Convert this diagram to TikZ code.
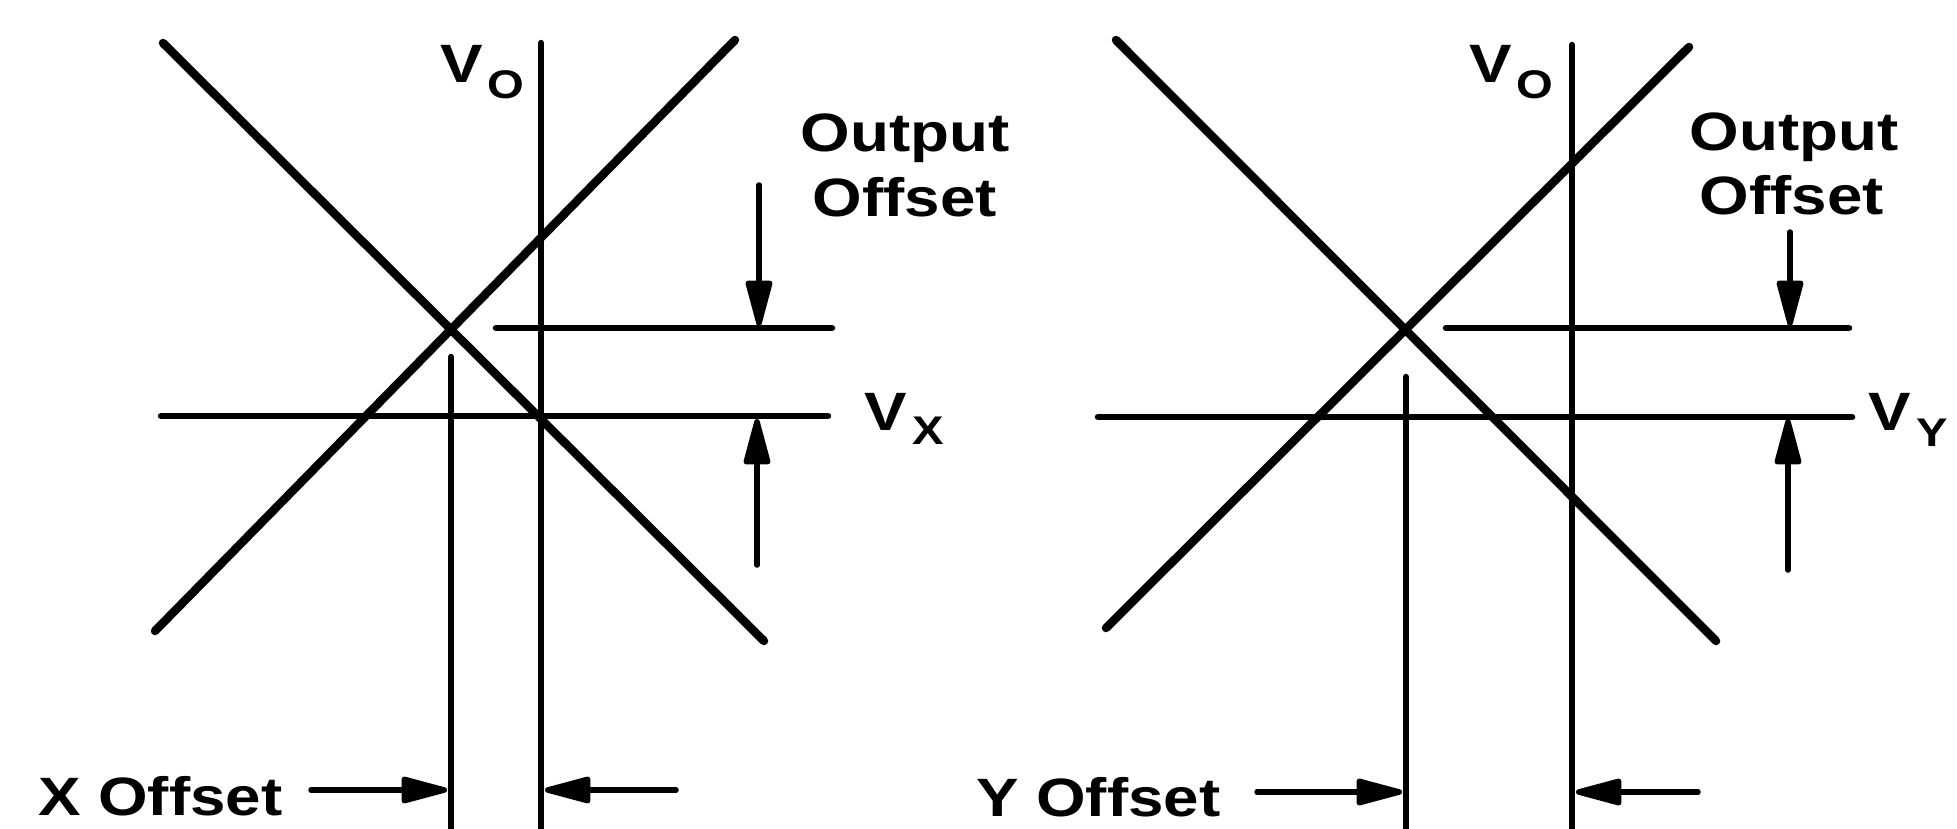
\documentclass[tikz,border=0pt]{standalone}
\usepackage{fontspec}
\setmainfont{Liberation Sans}[FakeStretch=1.18]
\usetikzlibrary{arrows.meta}
\begin{document}
\begin{tikzpicture}[x=1pt,y=-1pt,
  curve/.style={line width=8.5pt, line cap=round},
  axisline/.style={line width=6.5pt, line cap=round},
  levelline/.style={line width=6.5pt, line cap=round},
  dimarrow/.style={line width=5.5pt, line cap=round, -{Triangle[length=54pt,width=27pt,round]}},
  lbl/.style={font=\fontsize{54}{60}\selectfont\bfseries, inner sep=0pt}]
\useasboundingbox (0,0) rectangle (1957,828);

% ---------------- left panel ----------------
\coordinate (d1a) at (163,43);   \coordinate (d1b) at (764,641);
\coordinate (a1a) at (155,631);  \coordinate (a1b) at (735,40);
\coordinate (vo1t) at (541,43);  \coordinate (vo1b) at (541,835);
\coordinate (xo1t) at (451,357); \coordinate (xo1b) at (451,835);
\coordinate (vx1a) at (161,416); \coordinate (vx1b) at (828,416);
\coordinate (ol1a) at (496,328); \coordinate (ol1b) at (832,328);
\coordinate (dn1s) at (759,185); \coordinate (dn1e) at (759,326);
\coordinate (up1s) at (757,565); \coordinate (up1e) at (757,419);
\coordinate (xl1s) at (311,790); \coordinate (xl1e) at (447,790);
\coordinate (xr1s) at (676,790); \coordinate (xr1e) at (545,790);

\draw[curve] (d1a) -- (d1b);
\draw[curve] (a1a) -- (a1b);
\draw[axisline] (vo1t) -- (vo1b);
\draw[axisline] (xo1t) -- (xo1b);
\draw[levelline] (vx1a) -- (vx1b);
\draw[levelline] (ol1a) -- (ol1b);
\draw[dimarrow] (dn1s) -- (dn1e);
\draw[dimarrow] (up1s) -- (up1e);
\draw[dimarrow] (xl1s) -- (xl1e);
\draw[dimarrow] (xr1s) -- (xr1e);

\node[lbl, anchor=base west] (vo1) at (440,82) {V\kern5pt\raisebox{-16pt}{\fontsize{40}{44}\selectfont O}};
\node[lbl, anchor=base] (out1) at (905,151) {Output};
\node[lbl, anchor=base] (off1) at (905,216) {Offset};
\node[lbl, anchor=base west] (vx1) at (864,430) {V\kern6pt\raisebox{-14pt}{\fontsize{40}{44}\selectfont X}};
\node[lbl, anchor=base west] (xoff) at (38,815) {X Offset};

% ---------------- right panel ----------------
\coordinate (d2a) at (1116,40);  \coordinate (d2b) at (1716,641);
\coordinate (a2a) at (1106,628); \coordinate (a2b) at (1689,47);
\coordinate (vo2t) at (1572,45); \coordinate (vo2b) at (1572,835);
\coordinate (yo2t) at (1406,377); \coordinate (yo2b) at (1406,835);
\coordinate (vy2a) at (1098,417); \coordinate (vy2b) at (1852,417);
\coordinate (ol2a) at (1446,328); \coordinate (ol2b) at (1849,328);
\coordinate (dn2s) at (1790,232); \coordinate (dn2e) at (1790,326);
\coordinate (up2s) at (1788,570); \coordinate (up2e) at (1788,419);
\coordinate (yl2s) at (1257,792); \coordinate (yl2e) at (1402,792);
\coordinate (yr2s) at (1698,792); \coordinate (yr2e) at (1576,792);

\draw[curve] (d2a) -- (d2b);
\draw[curve] (a2a) -- (a2b);
\draw[axisline] (vo2t) -- (vo2b);
\draw[axisline] (yo2t) -- (yo2b);
\draw[levelline] (vy2a) -- (vy2b);
\draw[levelline] (ol2a) -- (ol2b);
\draw[dimarrow] (dn2s) -- (dn2e);
\draw[dimarrow] (up2s) -- (up2e);
\draw[dimarrow] (yl2s) -- (yl2e);
\draw[dimarrow] (yr2s) -- (yr2e);

\node[lbl, anchor=base west] (vo2) at (1469,82) {V\kern5pt\raisebox{-16pt}{\fontsize{40}{44}\selectfont O}};
\node[lbl, anchor=base] (out2) at (1794,150) {Output};
\node[lbl, anchor=base] (off2) at (1792,214) {Offset};
\node[lbl, anchor=base west] (vy2) at (1868,430) {V\kern6pt\raisebox{-16pt}{\fontsize{40}{44}\selectfont Y}};
\node[lbl, anchor=base west] (yoff) at (976,816) {Y Offset};
\end{tikzpicture}
\end{document}
